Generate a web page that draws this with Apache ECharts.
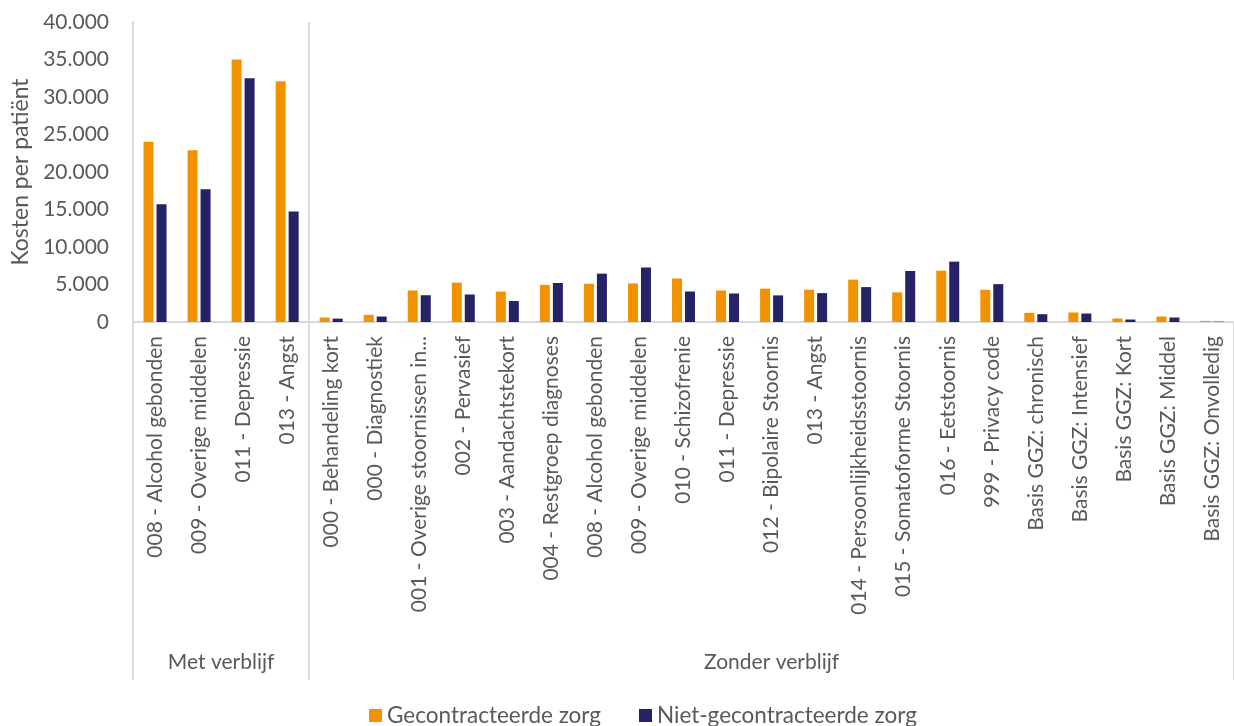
<!DOCTYPE html>
<html>
<head>
<meta charset="utf-8">
<script src="https://cdn.jsdelivr.net/npm/echarts@6/dist/echarts.min.js"></script>
<style>
  html, body { margin: 0; padding: 0; background: #fff; }
  #kostenChart { width: 1234px; height: 726px; }
</style>
</head>
<body>
<div id="kostenChart"></div>
<script>
// categorieen (diagnosegroepen)
var categories = [
  '008 - Alcohol gebonden', '009 - Overige middelen', '011 - Depressie', '013 - Angst',
  '000 - Behandeling kort', '000 - Diagnostiek', '001 - Overige stoornissen in...',
  '002 - Pervasief', '003 - Aandachtstekort', '004 - Restgroep diagnoses',
  '008 - Alcohol gebonden', '009 - Overige middelen', '010 - Schizofrenie',
  '011 - Depressie', '012 - Bipolaire Stoornis', '013 - Angst',
  '014 - Persoonlijkheidsstoornis', '015 - Somatoforme Stoornis', '016 - Eetstoornis',
  '999 - Privacy code', 'Basis GGZ: chronisch', 'Basis GGZ: Intensief',
  'Basis GGZ: Kort', 'Basis GGZ: Middel', 'Basis GGZ: Onvolledig'
];

// groepen: naam + startindex, laatste grens = aantal categorieen
var groupNames = ['Met verblijf', 'Zonder verblijf'];
var groupBounds = [0, 4, 25];

var seriesNames = ['Gecontracteerde zorg', 'Niet-gecontracteerde zorg'];

var gecontracteerd = [
  24050, 22900, 35000, 32100,
  600, 950, 4200, 5250, 4050, 4950, 5100, 5150, 5800, 4200, 4450, 4300,
  5650, 3950, 6850, 4300, 1220, 1270, 470, 730, 150
];
var nietGecontracteerd = [
  15700, 17700, 32500, 14750,
  450, 730, 3570, 3670, 2800, 5200, 6450, 7270, 4070, 3800, 3550, 3850,
  4650, 6800, 8050, 5050, 1040, 1130, 330, 600, 50
];

var yTicks = { min: 0, max: 40000, interval: 5000 };

var colors = ['#F39200', '#262266'];
var textColor = '#595959';
var lineColor = '#d9d9d9';
var fontFamily = 'Lato, "Noto Sans", sans-serif';
var fontSize = 21;

function formatNumber(v) {
  return String(v).replace(/\B(?=(\d{3})+(?!\d))/g, '.');
}

// middens van de groepen voor de labels
var groupCenters = [];
for (var i = 0; i < groupNames.length; i++) {
  groupCenters.push((groupBounds[i] + groupBounds[i + 1]) / 2);
}

var chart = echarts.init(document.getElementById('kostenChart'));

var option = {
  color: colors,
  textStyle: { fontFamily: fontFamily },
  grid: {
    left: 133,
    right: -6,
    top: 22,
    height: 300
  },
  legend: {
    data: seriesNames,
    left: 369,
    top: 704,
    padding: 0,
    icon: 'rect',
    itemWidth: 13,
    itemHeight: 13,
    itemGap: 38,
    textStyle: { color: textColor, fontSize: 22.5, fontFamily: fontFamily }
  },
  xAxis: [
    {
      type: 'category',
      data: categories,
      axisLine: { lineStyle: { color: lineColor, width: 2 } },
      axisTick: { show: false },
      axisLabel: {
        rotate: 90,
        interval: 0,
        margin: 14,
        color: textColor,
        fontSize: fontSize,
        fontFamily: fontFamily
      }
    },
    {
      // groepsniveau onder de categorieen
      type: 'value',
      position: 'bottom',
      min: 0,
      max: categories.length,
      axisLine: { show: false },
      splitLine: { show: false },
      axisTick: {
        show: true,
        customValues: groupBounds,
        length: 358,
        lineStyle: { color: lineColor, width: 2 }
      },
      axisLabel: {
        show: true,
        customValues: groupCenters,
        margin: 330,
        color: textColor,
        fontSize: fontSize,
        fontFamily: fontFamily,
        formatter: function (v) {
          var idx = groupCenters.indexOf(v);
          return idx >= 0 ? groupNames[idx] : '';
        }
      }
    },
    {
      // scheidingslijn tussen de groepen in het plotvlak
      type: 'value',
      position: 'top',
      min: 0,
      max: categories.length,
      axisLine: { show: false },
      splitLine: { show: false },
      axisLabel: { show: false },
      axisTick: {
        show: true,
        inside: true,
        customValues: groupBounds.slice(1, -1),
        length: 300,
        lineStyle: { color: lineColor, width: 2 }
      }
    }
  ],
  yAxis: {
    type: 'value',
    min: yTicks.min,
    max: yTicks.max,
    interval: yTicks.interval,
    name: 'Kosten per patiënt',
    nameLocation: 'middle',
    nameGap: 100,
    nameTextStyle: { color: textColor, fontSize: 23, fontFamily: fontFamily },
    axisLine: { show: true, lineStyle: { color: lineColor, width: 2 } },
    axisTick: { show: false },
    splitLine: { show: false },
    axisLabel: {
      margin: 24,
      color: textColor,
      fontSize: fontSize,
      fontFamily: fontFamily,
      formatter: formatNumber
    }
  },
  series: [
    {
      name: seriesNames[0],
      type: 'bar',
      barWidth: 10,
      barGap: '30%',
      data: gecontracteerd
    },
    {
      name: seriesNames[1],
      type: 'bar',
      barWidth: 10,
      barGap: '30%',
      data: nietGecontracteerd
    }
  ]
};

chart.setOption(option);
window.onresize = chart.resize;
</script>
</body>
</html>
